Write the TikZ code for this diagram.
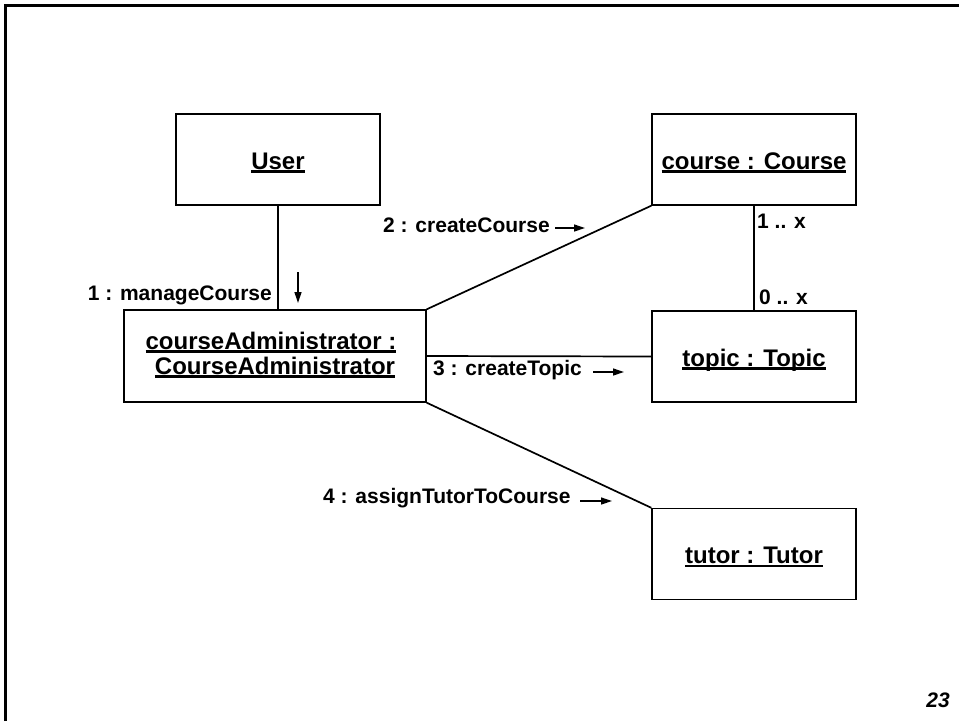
\documentclass[tikz,border=0pt]{standalone}
\usepackage{fontspec}
\setmainfont{Liberation Sans}
\usetikzlibrary{arrows.meta}

% underlined object name with a heavy rule just below the baseline
\newcommand\objname[1]{\setbox0=\hbox{#1}\leavevmode\rlap{\rule[-3.6pt]{\wd0}{2.5pt}}\box0}

\begin{document}
\begin{tikzpicture}[x=1pt,y=-1pt,
  objbox/.style={draw, line width=1.4pt, rectangle, inner sep=0pt,
    minimum width=204pt, minimum height=91pt},
  objtext/.style={inner sep=0pt, font=\fontsize{24}{27}\selectfont\bfseries},
  link/.style={line width=1.7pt},
  msg/.style={font=\fontsize{21}{24}\selectfont\bfseries, inner sep=0pt},
  msgarrow/.style={line width=1.3pt, -{Triangle[length=11pt,width=7pt]}}]

\useasboundingbox (0,0) rectangle (959,721);

% page frame (top and left edges)
\draw[line width=3pt, line join=miter] (5,721) -- (5,5) -- (959,5);

% objects
\node[objbox] (user)   at (278,159.5) {};
\node[objbox] (course) at (754,159.5) {};
\node[objbox, minimum width=302pt, minimum height=92pt] (admin) at (275,356) {};
\node[objbox] (topic)  at (754,356.5) {};
\node[objbox] (tutor)  at (754,554) {};

% object names (baseline placed below the box centre)
\node[objtext, anchor=base] (userT)   at ([yshift=-9.5pt]user.center)   {\objname{User}};
\node[objtext, anchor=base] (courseT) at ([yshift=-9.5pt]course.center) {\objname{course : Course}};
\node[objtext, anchor=base] (topicT)  at ([yshift=-9.5pt]topic.center)  {\objname{topic : Topic}};
\node[objtext, anchor=base] (tutorT)  at ([yshift=-9.5pt]tutor.center)  {\objname{tutor : Tutor}};
\node[objtext, anchor=base] (adminT1) at ([xshift=-4pt,yshift=7pt]admin.center) {\objname{courseAdministrator :}};
\node[objtext, anchor=base] (adminT2) at ([yshift=-18pt]admin.center) {\objname{CourseAdministrator}};

% links
\draw[link] (user.south) -- (user.south |- admin.north);
\draw[link] (admin.north east) -- (course.south west);
\draw[link] (admin.east) -- (topic.west);
\draw[link] (admin.south east) -- (tutor.north west);
\draw[link] (course.south) -- (topic.north);

% messages
\node[msg, anchor=base east] (m1) at (272,300) {1 : manageCourse};
\coordinate (m1a) at (298,272);
\coordinate (m1b) at (298,303);
\draw[msgarrow] (m1a) -- (m1b);

\node[msg, anchor=base west] (m2) at (383,232) {2 : createCourse};
\coordinate (m2a) at (555,228);
\coordinate (m2b) at (585,228);
\draw[msgarrow] (m2a) -- (m2b);

\node[msg, anchor=base west] (m3) at (433,375) {3 : createTopic};
\coordinate (m3a) at (593,372);
\coordinate (m3b) at (624,372);
\draw[msgarrow] (m3a) -- (m3b);

\node[msg, anchor=base west] (m4) at (323,503) {4 : assignTutorToCourse};
\coordinate (m4a) at (580,501);
\coordinate (m4b) at (612,501);
\draw[msgarrow] (m4a) -- (m4b);

% multiplicities
\node[msg, anchor=base west] (mult1) at (757,228) {1 .. x};
\node[msg, anchor=base west] (mult0) at (759,304) {0 .. x};

% page number
\node[msg, anchor=base east, font=\fontsize{21}{24}\selectfont\bfseries\itshape] (pg) at (950,707) {23};
\end{tikzpicture}
\end{document}
